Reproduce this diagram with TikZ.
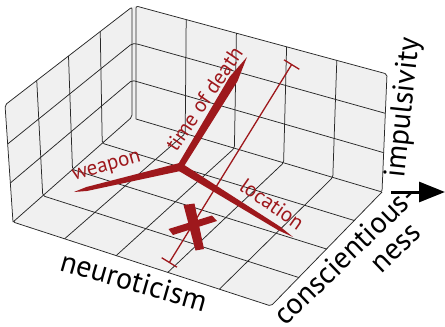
\documentclass[tikz,border=0pt]{standalone}
\usepackage{fontspec}
\setmainfont{PT Sans}
\usetikzlibrary{calc,arrows.meta}
\definecolor{spearred}{RGB}{158,24,28}
\definecolor{panefill}{RGB}{240,240,240}
\definecolor{gridcol}{RGB}{40,40,40}
\tikzset{
  gridline/.style={draw=gridcol, line width=0.75pt, rounded corners=2pt},
  axislabel/.style={inner sep=0pt, font=\fontsize{30}{34}\selectfont},
  redlabel/.style={inner sep=0pt, text=spearred, font=\fontsize{21}{24}\selectfont},
  spearshape/.style={fill=spearred},
}
\begin{document}
\begin{tikzpicture}[x=1pt,y=-1pt]
\useasboundingbox (0,0) rectangle (445,327);
% corners
\coordinate (BT) at (136,6);
\coordinate (BB) at (136,119);
\coordinate (BTL) at (132,7);
\coordinate (BBL) at (132,117);
\coordinate (LT) at (5,105);
\coordinate (LB) at (13,222);
\coordinate (RT) at (387,74);
\coordinate (RB) at (382,192);
\coordinate (FF) at (271,306);
% panes
\fill[panefill] (LT) -- (BTL) -- (BT) -- (RT) -- (RB) -- (FF) -- (LB) -- cycle;
% grid: left wall verticals continuing onto floor
\foreach \t in {0.25,0.5,0.75} {
  \draw[gridline] ($(BTL)!\t!(LT)$) -- ($(BBL)!\t!(LB)$) -- ($(RB)!\t!(FF)$);
}
% back wall verticals continuing onto floor
\foreach \s in {0.2,0.4,0.6,0.8} {
  \draw[gridline] ($(BT)!\s!(RT)$) -- ($(BB)!\s!(RB)$) -- ($(LB)!\s!(FF)$);
}
% horizontals on walls
\foreach \u in {0.3333,0.6667} {
  \draw[gridline] ($(LT)!\u!(LB)$) -- ($(BTL)!\u!(BBL)$) -- ($(BT)!\u!(BB)$) -- ($(RT)!\u!(RB)$);
}
% frames
\draw[gridline] (LB) -- (LT) -- (BTL) -- (BBL) -- (LB) -- (FF) -- (RB);
\draw[gridline] (BB) -- (BT) -- (RT) -- (RB) -- (BB);
% spears
\coordinate (C) at (180,167);
\coordinate (Ttip) at (247,57);
\coordinate (Wtip) at (74,192);
\coordinate (Ltip) at (293,237);
\coordinate (Tm) at ($(C)!0.8!(Ttip)$);
\coordinate (Wm) at ($(C)!0.88!(Wtip)$);
\coordinate (Lm) at ($(C)!0.88!(Ltip)$);
\fill[spearshape] ($(C)!3pt!90:(Ttip)$) -- ($(Tm)!4.5pt!90:(Ttip)$) -- (Ttip) -- ($(Tm)!4.5pt!-90:(Ttip)$) -- ($(C)!3pt!-90:(Ttip)$) -- cycle;
\fill[spearshape] ($(C)!4pt!90:(Wtip)$) -- ($(Wm)!2pt!90:(Wtip)$) -- (Wtip) -- ($(Wm)!2pt!-90:(Wtip)$) -- ($(C)!4pt!-90:(Wtip)$) -- cycle;
\fill[spearshape] ($(C)!4pt!90:(Ltip)$) -- ($(Lm)!2pt!90:(Ltip)$) -- (Ltip) -- ($(Lm)!2pt!-90:(Ltip)$) -- ($(C)!4pt!-90:(Ltip)$) -- cycle;
\fill[spearshape] (C) circle (4pt);
% error bar
\coordinate (eb1) at (169,263);
\coordinate (eb2) at (292,64);
\draw[spearred, line width=1.3pt, {Bar[width=18pt]}-{Bar[width=18pt]}] (eb1) -- (eb2);
% X marker
\fill[spearshape] (183.5,205) -- (194.5,203.5) -- (204,249) -- (195.5,250.5) -- cycle;
\fill[spearshape] (168.5,229) -- (212,215.5) -- (217,221) -- (173,235) -- cycle;
% red labels
\node[redlabel, rotate=16] (weapon) at (107,168) {weapon};
\node[redlabel, rotate=56] (tod) at (204,99) {time of death};
\node[redlabel, rotate=-35] (loc) at (272,204) {location};
% axis labels
\node[axislabel, rotate=-16] (neuro) at (134,281) {neuroticism};
\node[axislabel, rotate=44] (consc) at (345,255) {conscientious-};
\node[axislabel, rotate=44] (ness) at (397,249) {ness};
\node[axislabel, rotate=84] (impuls) at (404,108) {impulsivity};
% arrow
\coordinate (ar1) at (391,192);
\coordinate (ar2) at (445,192);
\draw[line width=3pt, -{Triangle[length=26pt,width=20pt]}] (ar1) -- (ar2);
\end{tikzpicture}
\end{document}
